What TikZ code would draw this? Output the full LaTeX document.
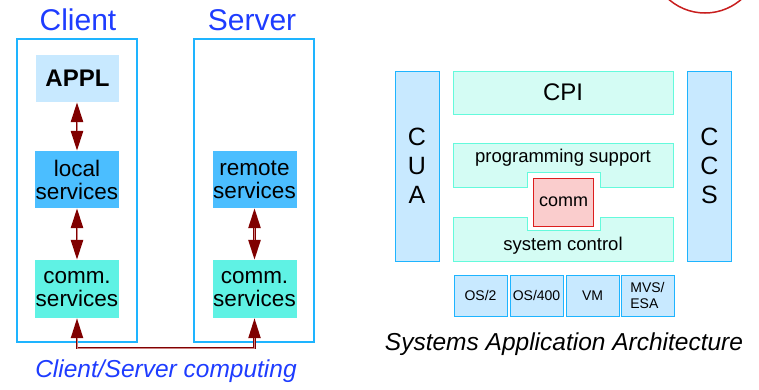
\documentclass[tikz,border=0pt]{standalone}
\usepackage{fontspec}
\setmainfont{Liberation Sans}
\usetikzlibrary{arrows.meta}

\definecolor{titleblue}{RGB}{30,60,255}
\definecolor{panelblue}{RGB}{30,180,255}
\definecolor{tintblue}{RGB}{200,233,255}
\definecolor{denseblue}{RGB}{75,190,255}
\definecolor{densecyan}{RGB}{95,242,228}
\definecolor{tintcyan}{RGB}{212,252,244}
\definecolor{edgecyan}{RGB}{100,250,220}
\definecolor{edgered}{RGB}{220,30,30}
\definecolor{tintred}{RGB}{250,205,205}
\definecolor{linkred}{RGB}{128,0,0}
\definecolor{linkmid}{RGB}{205,130,130}
\definecolor{ringred}{RGB}{200,30,30}

\begin{document}
\begin{tikzpicture}[x=1pt,y=-1pt,
  title/.style={font=\fontsize{30}{34}\selectfont, text=titleblue},
  panel/.style={draw=panelblue, line width=1.5pt, minimum width=120pt, minimum height=303pt, inner sep=0pt},
  svc/.style={minimum width=84pt, minimum height=57pt, inner sep=0pt, align=center,
    font=\fontsize{22.5}{23}\selectfont},
  link/.style={draw=linkred, line width=2.6pt,
    {Triangle[length=20pt,width=12pt]}-{Triangle[length=20pt,width=12pt]}},
  linkcore/.style={draw=linkmid, line width=0.7pt, shorten <=20pt, shorten >=20pt},
  pillar/.style={draw=panelblue, line width=1pt, fill=tintblue, minimum width=44pt,
    minimum height=190pt, inner sep=0pt, align=center, font=\fontsize{25}{29}\selectfont},
  layer/.style={draw=edgecyan, line width=1pt, fill=tintcyan},
  osbox/.style={draw=panelblue, line width=1pt, fill=tintblue, minimum width=53pt,
    minimum height=41pt, inner sep=0pt, font=\fontsize{14}{16}\selectfont},
  caption/.style={font=\itshape\fontsize{24.5}{28}\selectfont}]

\useasboundingbox (0,0) rectangle (759,389);

% ---- Client/Server computing ----
\node[title] (tclient) at (78,20) {Client};
\node[title] (tserver) at (252,20) {Server};

\node[panel] (client) at (77,190.5) {};
\node[panel] (server) at (254,190.5) {};

\node[minimum width=83pt, minimum height=47pt, inner sep=0pt, fill=tintblue,
  font=\bfseries\fontsize{24}{28}\selectfont] (appl) at (77.5,78.5) {APPL};
\node[svc, fill=denseblue] (local) at (77,179.5) {local\\services};
\node[svc, fill=densecyan, minimum height=58pt] (ccomm) at (77,289) {comm.\\services};
\node[svc, fill=denseblue] (remote) at (254.5,179.5) {remote\\services};
\node[svc, fill=densecyan, minimum height=58pt] (scomm) at (254.5,289) {comm.\\services};

% two-way links between the layers
\draw[link] (appl.south -| local.north) -- (local.north);
\draw[linkcore] (appl.south -| local.north) -- (local.north);
\draw[link] (local.south) -- (ccomm.north);
\draw[linkcore] (local.south) -- (ccomm.north);
\draw[link] (remote.south) -- (scomm.north);
\draw[linkcore] (remote.south) -- (scomm.north);
\draw[link, line width=2.2pt] (ccomm.south) -- ++(0,30) -| (scomm.south);
\draw[linkcore, line width=0.6pt] (ccomm.south) -- ++(0,30) -| (scomm.south);

\node[caption, text=titleblue] (cscap) at (166,371) {Client/Server computing};

% ---- Systems Application Architecture ----
\draw[ringred, line width=1.5pt] (705,-42) circle (55);

\node[pillar] (cua) at (417,166) {C\\U\\A};
\node[pillar] (ccs) at (709.5,166) {C\\C\\S};

\node[layer, minimum width=220pt, minimum height=43pt, inner sep=0pt,
  font=\fontsize{24}{28}\selectfont] (cpi) at (563,92.5) {CPI};

\draw[layer] (453,143) -- (673,143) -- (673,187) -- (600,187) -- (600,172)
  -- (527,172) -- (527,187) -- (453,187) -- cycle;
\node[font=\fontsize{18.5}{22}\selectfont] (progsup) at (563,158) {programming support};

\draw[layer] (453,217) -- (527,217) -- (527,230) -- (600,230) -- (600,217)
  -- (673,217) -- (673,261) -- (453,261) -- cycle;
\node[font=\fontsize{18.5}{22}\selectfont] (sysctl) at (563,246) {system control};

\node[draw=edgered, line width=1pt, fill=tintred, minimum width=60pt, minimum height=48pt,
  inner sep=0pt, font=\fontsize{18}{22}\selectfont] (comm) at (563.5,202) {comm};

\node[osbox] (os2) at (480.5,295.5) {OS/2};
\node[osbox] (os400) at (536.5,295.5) {OS/400};
\node[osbox] (vm) at (592.5,295.5) {VM};
\node[osbox, align=left] (mvs) at (647.5,295.5) {MVS/\\ESA};

\node[caption] (saacap) at (564,344) {Systems Application Architecture};

\end{tikzpicture}
\end{document}
